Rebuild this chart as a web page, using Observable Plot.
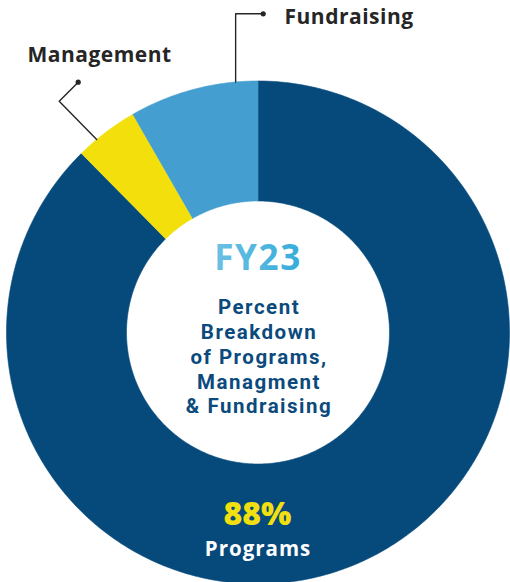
<!DOCTYPE html>
<html>
<head>
<meta charset="utf-8">
<script src="https://cdn.jsdelivr.net/npm/d3@7"></script>
<script src="https://cdn.jsdelivr.net/npm/@observablehq/plot@0.6"></script>
<style>
  html, body { margin: 0; padding: 0; background: #ffffff; }
  #chart svg { display: block; font-family: "Open Sans", "Noto Sans", sans-serif; }
  #chart .lbl text { letter-spacing: 0.5px; }
  #chart .sub text { letter-spacing: 1.5px; font-family: Roboto, "Open Sans", sans-serif; }
  #chart .fy text { letter-spacing: 1.6px; }
  #chart .prog text { letter-spacing: 1px; }
</style>
</head>
<body>
<div id="chart"></div>
<script>
// ---- data ----
const categories = ["Programs", "Management", "Fundraising"];
const values = [87.6, 4.1, 8.3];
const colors = ["#064a7c", "#f2df0c", "#449ecf"];
const centerTitle = "FY23";
const subtitleLines = ["Percent", "Breakdown", "of Programs,", "Managment", "& Fundraising"];
const highlightValue = "88%";
const highlightLabel = "Programs";

// ---- layout ----
const W = 510, H = 582;
const cx = 257.5, cy = 332, R = 251.5, r = 131.5;

const pie = d3.pie().sort(null).value(d => d.value);
const arcs = pie(categories.map((c, i) => ({cat: c, value: values[i]})));

function pt(a, rad) { return {x: cx + rad * Math.sin(a), y: cy - rad * Math.cos(a)}; }

const slicePts = [];
for (const a of arcs) {
  const n = Math.max(8, Math.ceil((a.endAngle - a.startAngle) / 0.01));
  const pts = [];
  for (let k = 0; k <= n; k++) pts.push(pt(a.startAngle + (a.endAngle - a.startAngle) * k / n, R));
  for (let k = n; k >= 0; k--) pts.push(pt(a.startAngle + (a.endAngle - a.startAngle) * k / n, r));
  pts.forEach(p => slicePts.push({...p, cat: a.data.cat}));
}

// leader lines (annotation layout)
const deg = Math.PI / 180;
const fStart = pt(-5.1 * deg, R);
const mStart = pt(-39.9 * deg, R);
const leaders = [
  {cat: "Fundraising", pts: [fStart, {x: fStart.x, y: 13.3}, {x: 262.7, y: 13.3}]},
  {cat: "Management", pts: [mStart, {x: 58.7, y: 100.7}, {x: 77.7, y: 81.7}]}
];
const leaderPts = leaders.flatMap(l => l.pts.map(p => ({...p, cat: l.cat})));
const leaderEnds = leaders.map(l => ({...l.pts[l.pts.length - 1], cat: l.cat}));
const labelPos = [
  {cat: "Fundraising", x: 284, y: 16.6},
  {cat: "Management", x: 27, y: 55}
];

const subRows = subtitleLines.map((t, i) => ({t, i}));

const chart = Plot.plot({
  width: W, height: H, margin: 0,
  x: {domain: [0, W], range: [0, W], axis: null},
  y: {domain: [0, H], range: [0, H], axis: null},
  color: {domain: categories, range: colors},
  marks: [
    Plot.line(slicePts, {x: "x", y: "y", z: "cat", fill: "cat", stroke: "cat", strokeWidth: 0.6, curve: "linear"}),
    Plot.line(leaderPts, {x: "x", y: "y", z: "cat", stroke: "#262626", strokeWidth: 1.4}),
    Plot.dot(leaderEnds, {x: "x", y: "y", r: 2.6, fill: "#262626"}),
    Plot.text(labelPos, {x: "x", y: "y", text: "cat", textAnchor: "start", fontSize: 21, fontWeight: 700, fill: "#262626", className: "lbl"}),
    Plot.text([centerTitle], {x: () => 257.5, y: () => 258.5, text: d => d, fontSize: 35, fontWeight: 700, fill: "url(#fyGrad)", className: "fy"}),
    Plot.text(subRows, {x: () => 258.5, y: d => 306.8 + d.i * 24.9, text: "t", fontSize: 20.5, fontWeight: 700, fill: "#0b4a7c", className: "sub"}),
    Plot.text([highlightValue], {x: () => 257, y: () => 514.5, text: d => d, fontSize: 32, fontWeight: 800, fill: "#f1df10"}),
    Plot.text([highlightLabel], {x: () => 257.5, y: () => 548.6, text: d => d, fontSize: 20.5, fontWeight: 700, fill: "#ffffff", className: "prog"})
  ]
});

const ns = "http://www.w3.org/2000/svg";
const defs = document.createElementNS(ns, "defs");
const grad = document.createElementNS(ns, "linearGradient");
grad.setAttribute("id", "fyGrad");
grad.setAttribute("x1", "0"); grad.setAttribute("x2", "1");
grad.setAttribute("y1", "0"); grad.setAttribute("y2", "0");
[["0%", "#6cc0e3"], ["100%", "#36acdb"]].forEach(([o, c]) => {
  const s = document.createElementNS(ns, "stop");
  s.setAttribute("offset", o); s.setAttribute("stop-color", c);
  grad.appendChild(s);
});
defs.appendChild(grad);
chart.insertBefore(defs, chart.firstChild);
document.getElementById("chart").appendChild(chart);
</script>
</body>
</html>
